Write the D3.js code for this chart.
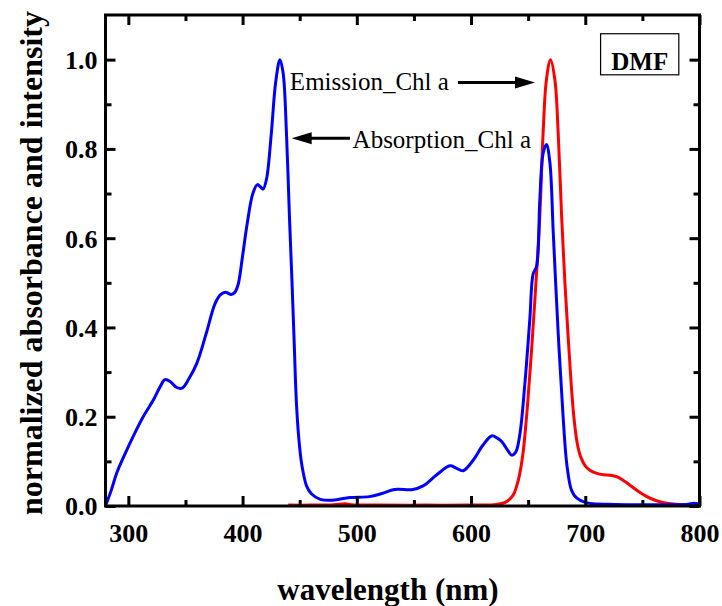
<!DOCTYPE html>
<html>
<head>
<meta charset="utf-8">
<script src="https://cdn.jsdelivr.net/npm/d3@7/dist/d3.min.js"></script>
<style>
  html, body { margin: 0; padding: 0; background: #fff; }
  svg { display: block; }
</style>
</head>
<body>
<svg id="chart" width="722" height="606"></svg>
<script>
// Chlorophyll a in DMF: normalized absorption and emission spectra
const absWavelength = [280, 285, 290, 298, 305, 313, 322, 328, 332, 337, 342, 347, 353, 360, 368, 376, 381, 385, 390, 393, 396, 400, 404, 409, 413, 416, 418, 421, 425, 429, 432.7, 435.5, 438.5, 441, 443, 445, 447.3, 450, 452, 456, 460, 468, 479, 494, 511, 522, 533, 549, 558, 570, 581.5, 587, 593, 602, 610, 618, 623, 627, 632, 635.5, 639, 642.7, 647, 651.5, 654.4, 657.4, 660.2, 663.1, 666, 669, 672, 676.3, 680.6, 684, 688, 692.4, 700, 707, 720, 740, 760, 780, 790, 795, 800];
const absValue = [0.0, 0.035, 0.075, 0.122, 0.16, 0.2, 0.238, 0.268, 0.283, 0.278, 0.266, 0.264, 0.285, 0.32, 0.385, 0.454, 0.474, 0.479, 0.474, 0.478, 0.495, 0.56, 0.632, 0.7, 0.72, 0.714, 0.71, 0.733, 0.83, 0.95, 1.0, 0.97, 0.83, 0.65, 0.52, 0.38, 0.223, 0.13, 0.09, 0.045, 0.028, 0.015, 0.013, 0.019, 0.021, 0.028, 0.037, 0.037, 0.045, 0.07, 0.09, 0.085, 0.079, 0.103, 0.135, 0.157, 0.152, 0.144, 0.125, 0.114, 0.12, 0.16, 0.27, 0.42, 0.52, 0.537, 0.686, 0.79, 0.81, 0.77, 0.611, 0.387, 0.2, 0.09, 0.035, 0.018, 0.008, 0.005, 0.004, 0.003, 0.003, 0.003, 0.004, 0.006, 0.004];

const emiWavelength = [440, 460, 480, 490, 495, 520, 560, 600, 620, 630, 637, 640, 642.7, 645.6, 648.6, 651, 653, 656.8, 660.2, 663.1, 666, 669.6, 673.4, 676.3, 679.3, 682.2, 685, 687.5, 690, 693, 696, 700, 704, 710, 716, 722, 728, 734, 740, 747, 754, 760, 766, 775, 785, 800];
const emiValue = [0.002, 0.002, 0.003, 0.005, 0.003, 0.002, 0.002, 0.002, 0.003, 0.008, 0.025, 0.045, 0.073, 0.12, 0.2, 0.28, 0.35, 0.499, 0.649, 0.836, 0.955, 1.0, 0.955, 0.836, 0.649, 0.499, 0.38, 0.28, 0.2, 0.14, 0.11, 0.09, 0.08, 0.073, 0.07, 0.069, 0.065, 0.056, 0.045, 0.032, 0.021, 0.014, 0.009, 0.005, 0.003, 0.002];

const xMajorTicks = [300, 400, 500, 600, 700, 800];
const xMinorTicks = [350, 450, 550, 650, 750];
const yMajorTicks = [0.0, 0.2, 0.4, 0.6, 0.8, 1.0];
const yMinorTicks = [0.1, 0.3, 0.5, 0.7, 0.9];

const xTitle = "wavelength (nm)";
const yTitle = "normalized absorbance and intensity";
const emissionLabel = "Emission_Chl a";
const absorptionLabel = "Absorption_Chl a";
const solventLabel = "DMF";

const serif = "'Liberation Serif', 'Times New Roman', Times, 'DejaVu Serif', serif";

const svg = d3.select("#chart");
const plotLeft = 105.5, plotRight = 699.5, plotTop = 15, plotBottom = 506;

const x = d3.scaleLinear().domain([280, 800]).range([plotLeft, plotRight]);
const y = d3.scaleLinear().domain([0, 1.1]).range([plotBottom, plotTop]);

const plot = svg.append("g");
plot.append("clipPath").attr("id", "clip")
  .append("rect").attr("x", plotLeft).attr("y", plotTop)
  .attr("width", plotRight - plotLeft).attr("height", plotBottom - plotTop);

const line = d3.line()
  .x(d => x(d[0])).y(d => y(d[1]))
  .curve(d3.curveCatmullRom.alpha(0.5));

const emission = emiWavelength.map((w, i) => [w, emiValue[i]]);
const absorption = absWavelength.map((w, i) => [w, absValue[i]]);

const curves = plot.append("g").attr("clip-path", "url(#clip)");
curves.append("path").datum(emission)
  .attr("d", line).attr("fill", "none").attr("stroke", "#ff0000").attr("stroke-width", 3).attr("stroke-linejoin", "round");
curves.append("path").datum(absorption)
  .attr("d", line).attr("fill", "none").attr("stroke", "#0000ff").attr("stroke-width", 3).attr("stroke-linejoin", "round");

// Axes: inward ticks on all four sides
function styleAxis(g) {
  g.select(".domain").remove();
  g.selectAll(".tick line").attr("stroke", "#000").attr("stroke-width", 3);
}
function styleLabels(sel, size, weight) {
  sel.style("font-family", serif).style("font-size", size + "px")
    .style("font-weight", weight).attr("fill", "#000");
}
const fmt = d3.format(".1f");

const xb = svg.append("g").attr("transform", `translate(0,${plotBottom})`)
  .call(d3.axisBottom(x).tickValues(xMajorTicks).tickSize(-10).tickSizeOuter(0).tickFormat(d3.format("d")));
styleAxis(xb);
xb.selectAll(".tick text").attr("y", 36).attr("dy", null).call(styleLabels, 26, "bold");
svg.append("g").attr("transform", `translate(0,${plotBottom})`)
  .call(d3.axisBottom(x).tickValues(xMinorTicks).tickSize(-6).tickSizeOuter(0).tickFormat("")).call(styleAxis);

svg.append("g").attr("transform", `translate(0,${plotTop})`)
  .call(d3.axisTop(x).tickValues(xMajorTicks).tickSize(-10).tickSizeOuter(0).tickFormat("")).call(styleAxis);
svg.append("g").attr("transform", `translate(0,${plotTop})`)
  .call(d3.axisTop(x).tickValues(xMinorTicks).tickSize(-6).tickSizeOuter(0).tickFormat("")).call(styleAxis);

const yl = svg.append("g").attr("transform", `translate(${plotLeft},0)`)
  .call(d3.axisLeft(y).tickValues(yMajorTicks).tickSize(-10).tickSizeOuter(0).tickFormat(fmt));
styleAxis(yl);
yl.selectAll(".tick text").attr("x", -8).attr("dy", "0.34em").call(styleLabels, 26, "bold");
svg.append("g").attr("transform", `translate(${plotLeft},0)`)
  .call(d3.axisLeft(y).tickValues(yMinorTicks).tickSize(-6).tickSizeOuter(0).tickFormat("")).call(styleAxis);

svg.append("g").attr("transform", `translate(${plotRight},0)`)
  .call(d3.axisRight(y).tickValues(yMajorTicks).tickSize(-10).tickSizeOuter(0).tickFormat("")).call(styleAxis);
svg.append("g").attr("transform", `translate(${plotRight},0)`)
  .call(d3.axisRight(y).tickValues(yMinorTicks).tickSize(-6).tickSizeOuter(0).tickFormat("")).call(styleAxis);

// Frame
svg.append("rect").attr("x", plotLeft).attr("y", plotTop)
  .attr("width", plotRight - plotLeft).attr("height", plotBottom - plotTop)
  .attr("fill", "none").attr("stroke", "#000").attr("stroke-width", 3);

// Axis titles
svg.append("text").attr("x", 388).attr("y", 600).attr("text-anchor", "middle")
  .call(styleLabels, 31, "bold").text(xTitle);
svg.append("text").attr("transform", "translate(42,263) rotate(-90)").attr("text-anchor", "middle")
  .call(styleLabels, 32, "bold").text(yTitle);

// Annotations with arrows
function arrow(x1, y1, x2, y2) {
  const dir = Math.sign(x2 - x1);
  const headLen = 20, headHalf = 6;
  svg.append("line").attr("x1", x1).attr("y1", y1).attr("x2", x2 - dir * headLen * 0.8).attr("y2", y2)
    .attr("stroke", "#000").attr("stroke-width", 3);
  svg.append("path")
    .attr("d", `M${x2},${y2} L${x2 - dir * headLen},${y2 - headHalf} L${x2 - dir * headLen},${y2 + headHalf} Z`)
    .attr("fill", "#000");
}
svg.append("text").attr("x", x(441.4)).attr("y", y(0.933))
  .call(styleLabels, 25, "normal").text(emissionLabel);
arrow(x(588.5), y(0.949), x(656), y(0.949));

svg.append("text").attr("x", x(496.3)).attr("y", y(0.802))
  .call(styleLabels, 25, "normal").text(absorptionLabel);
arrow(x(494), y(0.824), x(443), y(0.824));

// Solvent label box
svg.append("rect").attr("x", x(713.4)).attr("y", y(1.058))
  .attr("width", x(781.9) - x(713.4)).attr("height", y(0.966) - y(1.058))
  .attr("fill", "#fff").attr("stroke", "#000").attr("stroke-width", 1.2);
svg.append("text").attr("x", (x(713.4) + x(781.9)) / 2).attr("y", y(0.977)).attr("text-anchor", "middle")
  .call(styleLabels, 25, "bold").text(solventLabel);
</script>
</body>
</html>
